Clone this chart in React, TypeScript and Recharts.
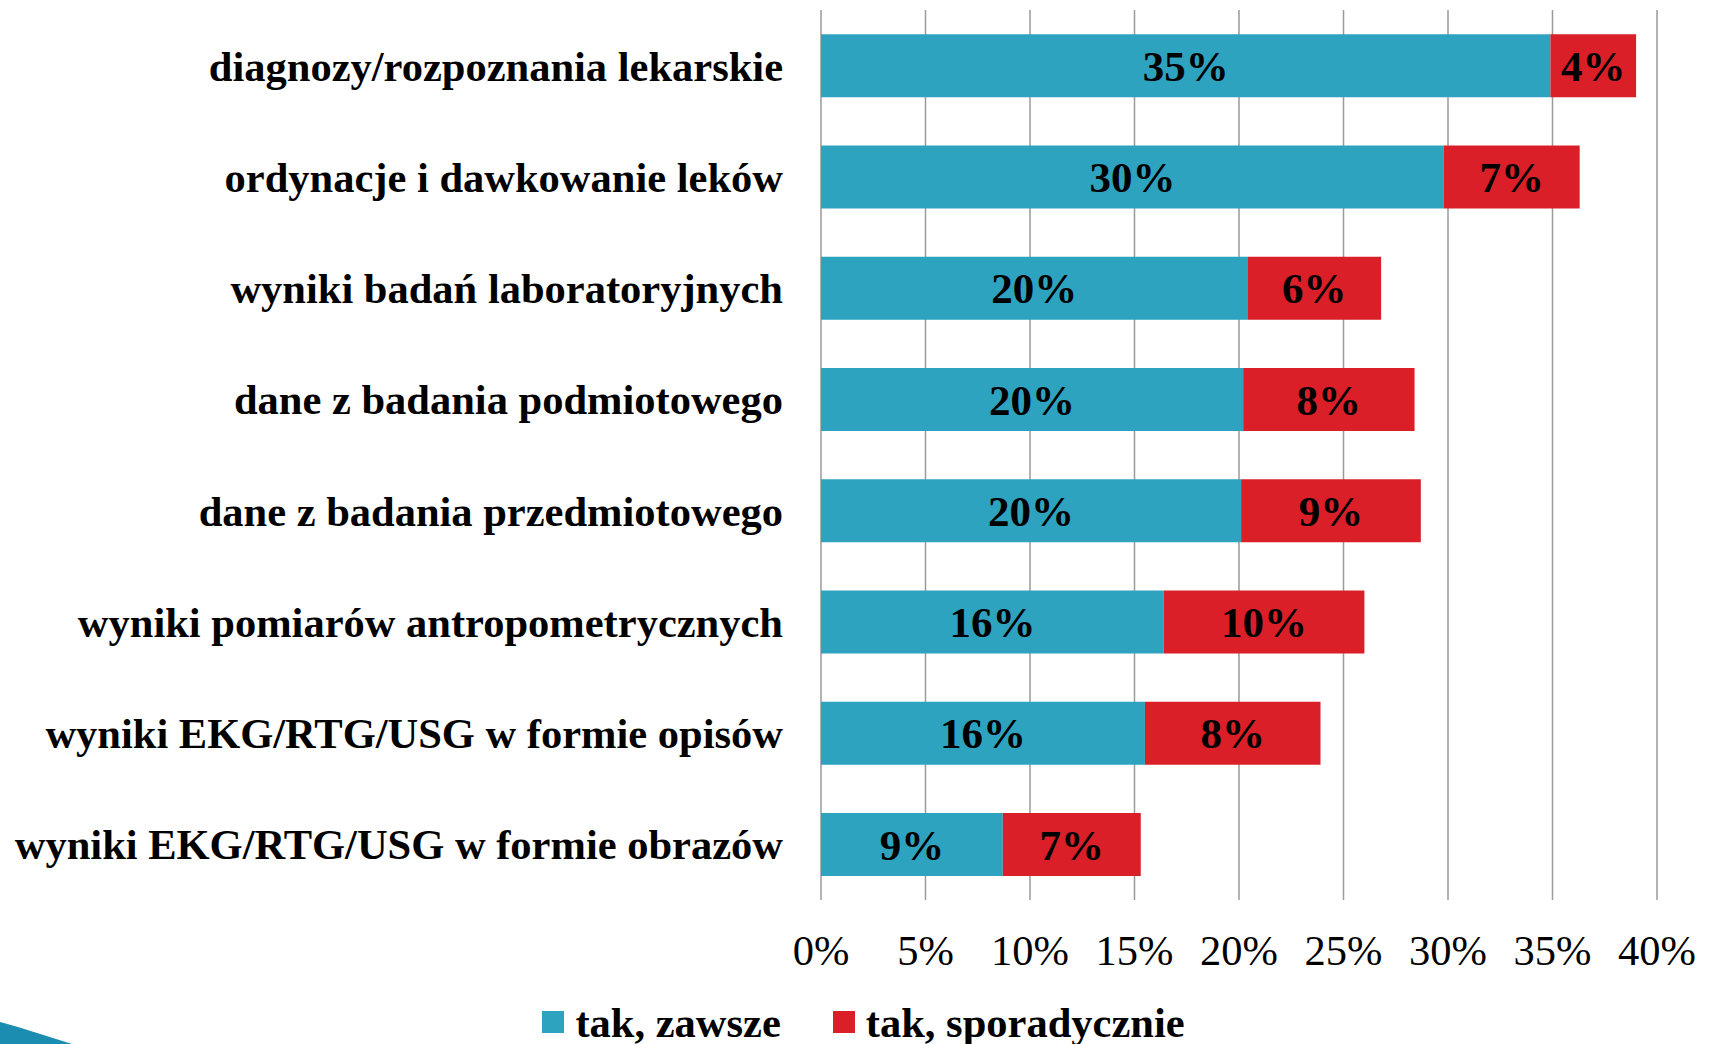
import { BarChart, Bar, XAxis, YAxis, CartesianGrid, LabelList, Legend } from 'recharts';

// survey answers, share of respondents (%)
const categories = [
  'diagnozy/rozpoznania lekarskie',
  'ordynacje i dawkowanie leków',
  'wyniki badań laboratoryjnych',
  'dane z badania podmiotowego',
  'dane z badania przedmiotowego',
  'wyniki pomiarów antropometrycznych',
  'wyniki EKG/RTG/USG w formie opisów',
  'wyniki EKG/RTG/USG w formie obrazów',
];
const always = [34.9, 29.8, 20.4, 20.2, 20.1, 16.4, 15.5, 8.7];
const sometimes = [4.1, 6.5, 6.4, 8.2, 8.6, 9.6, 8.4, 6.6];
const xTicks = [0, 5, 10, 15, 20, 25, 30, 35, 40];
const seriesNames = ['tak, zawsze', 'tak, sporadycznie'];

const COLORS = ['#2ea3c0', '#da1f28'];
const FONT = '"Liberation Serif", "Times New Roman", serif';

const data = categories.map((name, i) => ({
  name,
  always: always[i],
  sometimes: sometimes[i],
}));

function CategoryTick({ x, y, payload }: any) {
  return (
    <text
      x={x}
      y={y}
      dy="0.35em"
      textAnchor="end"
      fontFamily={FONT}
      fontWeight="bold"
      fontSize={42.5}
      fill="#000"
    >
      {payload.value}
    </text>
  );
}

function renderLegend() {
  return (
    <div
      style={{
        display: 'flex',
        justifyContent: 'center',
        alignItems: 'center',
        paddingLeft: 70,
        height: 44,
        fontFamily: FONT,
        fontWeight: 'bold',
        fontSize: 42.5,
        color: '#000',
      }}
    >
      {seriesNames.map((n, i) => (
        <span key={n} style={{ display: 'flex', alignItems: 'center', marginRight: i === 0 ? 52 : 0 }}>
          <span style={{ width: 22, height: 22, background: COLORS[i], marginRight: 11 }} />
          {n}
        </span>
      ))}
    </div>
  );
}

export default function App() {
  return (
    <div style={{ position: 'absolute', left: 0, top: 0, width: 1709, height: 1044, background: '#fff' }}>
      <BarChart
        width={1709}
        height={1044}
        data={data}
        layout="vertical"
        margin={{ top: 10, right: 52, bottom: 0, left: 0 }}
        barCategoryGap="21.7%"
      >
        <CartesianGrid vertical horizontal={false} stroke="#9a9a9a" strokeWidth={1.5} />
        <XAxis
          type="number"
          domain={[0, 40]}
          ticks={xTicks}
          tickFormatter={(v: number) => `${v}%`}
          axisLine={false}
          tickLine={false}
          tickSize={0}
          tickMargin={35}
          height={100}
          interval={0}
          tick={{ fontFamily: FONT, fontSize: 42.5, fill: '#000' }}
        />
        <YAxis
          type="category"
          dataKey="name"
          width={821}
          axisLine={false}
          tickLine={false}
          tickSize={0}
          tickMargin={38}
          interval={0}
          tick={<CategoryTick />}
        />
        <Legend verticalAlign="bottom" height={44} content={renderLegend} />
        <Bar dataKey="always" name={seriesNames[0]} stackId="a" fill={COLORS[0]} isAnimationActive={false}>
          <LabelList
            dataKey="always"
            position="center"
            formatter={(v: number) => `${Math.round(v)}%`}
            style={{ fontFamily: FONT, fontWeight: 'bold', fontSize: 43, fill: '#000' }}
          />
        </Bar>
        <Bar dataKey="sometimes" name={seriesNames[1]} stackId="a" fill={COLORS[1]} isAnimationActive={false}>
          <LabelList
            dataKey="sometimes"
            position="center"
            formatter={(v: number) => `${Math.round(v)}%`}
            style={{ fontFamily: FONT, fontWeight: 'bold', fontSize: 43, fill: '#000' }}
          />
        </Bar>
      </BarChart>
      <svg style={{ position: 'absolute', left: 0, top: 1010 }} width={90} height={34}>
        <polygon points="0,12 18,17 72,34 0,34" fill="#1b8db0" />
      </svg>
    </div>
  );
}
